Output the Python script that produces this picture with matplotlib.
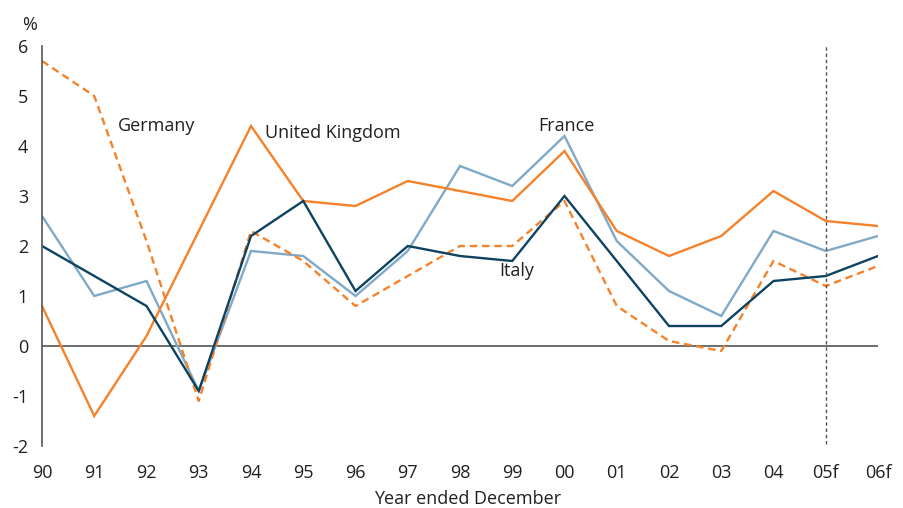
import matplotlib
matplotlib.use("Agg")
import matplotlib.pyplot as plt

plt.rcParams['font.family'] = ['Open Sans', 'DejaVu Sans']

years = ['90', '91', '92', '93', '94', '95', '96', '97', '98', '99',
         '00', '01', '02', '03', '04', '05f', '06f']
germany = [5.7, 5.0, 2.1, -1.1, 2.3, 1.7, 0.8, 1.4, 2.0, 2.0,
           2.9, 0.8, 0.1, -0.1, 1.7, 1.2, 1.6]
united_kingdom = [0.8, -1.4, 0.2, 2.3, 4.4, 2.9, 2.8, 3.3, 3.1, 2.9,
                  3.9, 2.3, 1.8, 2.2, 3.1, 2.5, 2.4]
france = [2.6, 1.0, 1.3, -0.9, 1.9, 1.8, 1.0, 1.9, 3.6, 3.2,
          4.2, 2.1, 1.1, 0.6, 2.3, 1.9, 2.2]
italy = [2.0, 1.4, 0.8, -0.9, 2.2, 2.9, 1.1, 2.0, 1.8, 1.7,
         3.0, 1.7, 0.4, 0.4, 1.3, 1.4, 1.8]
y_ticks = [-2, -1, 0, 1, 2, 3, 4, 5, 6]

ORANGE = '#F5822A'
LIGHT_BLUE = '#7FA9C6'
NAVY = '#0D4260'
GREY = '#555555'
TEXT = '#231F20'
FS = 13

fig = plt.figure(figsize=(9.04, 5.08), dpi=100)
ax = fig.add_axes([42 / 904, 1 - 446 / 508, 836 / 904, 400 / 508])

x = list(range(len(years)))
ax.plot(x, france, color=LIGHT_BLUE, lw=1.7, solid_joinstyle='miter')
ax.plot(x, united_kingdom, color=ORANGE, lw=1.7, solid_joinstyle='miter')
ax.plot(x, germany, color=ORANGE, lw=1.7, linestyle=(0, (3.2, 2.0)))
ax.plot(x, italy, color=NAVY, lw=1.7, solid_joinstyle='miter')

ax.axhline(0, color=GREY, lw=1.2, zorder=0)
ax.plot([years.index('05f')] * 2, [-1.95, 6.0], color=GREY, lw=1.0,
        linestyle=(0, (2.5, 2.0)))

ax.set_xlim(0, len(years) - 1)
ax.set_ylim(-2, 6)
ax.set_xticks(x)
ax.set_xticklabels(years)
ax.set_yticks(y_ticks)
ax.set_yticklabels([str(v) for v in y_ticks])
ax.tick_params(axis='both', length=0, labelsize=FS, colors=TEXT)
ax.tick_params(axis='x', pad=13)
ax.tick_params(axis='y', pad=10)

for side in ('top', 'right', 'bottom'):
    ax.spines[side].set_visible(False)
ax.spines['left'].set_color(GREY)
ax.spines['left'].set_linewidth(1.2)

fig.text(468 / 904, 1 - 499 / 508, 'Year ended December', fontsize=FS,
         color=TEXT, ha='center', va='center')
fig.text(30 / 904, 1 - 25 / 508, '%', fontsize=FS, color=TEXT,
         ha='center', va='center')

label_kw = dict(fontsize=FS, color=TEXT, va='center')
ax.text(1.45, 4.4, 'Germany', ha='left', **label_kw)
ax.text(4.27, 4.27, 'United Kingdom', ha='left', **label_kw)
ax.text(9.5, 4.4, 'France', ha='left', **label_kw)
ax.text(8.75, 1.5, 'Italy', ha='left', **label_kw)

fig.savefig('out.png', dpi=100)
